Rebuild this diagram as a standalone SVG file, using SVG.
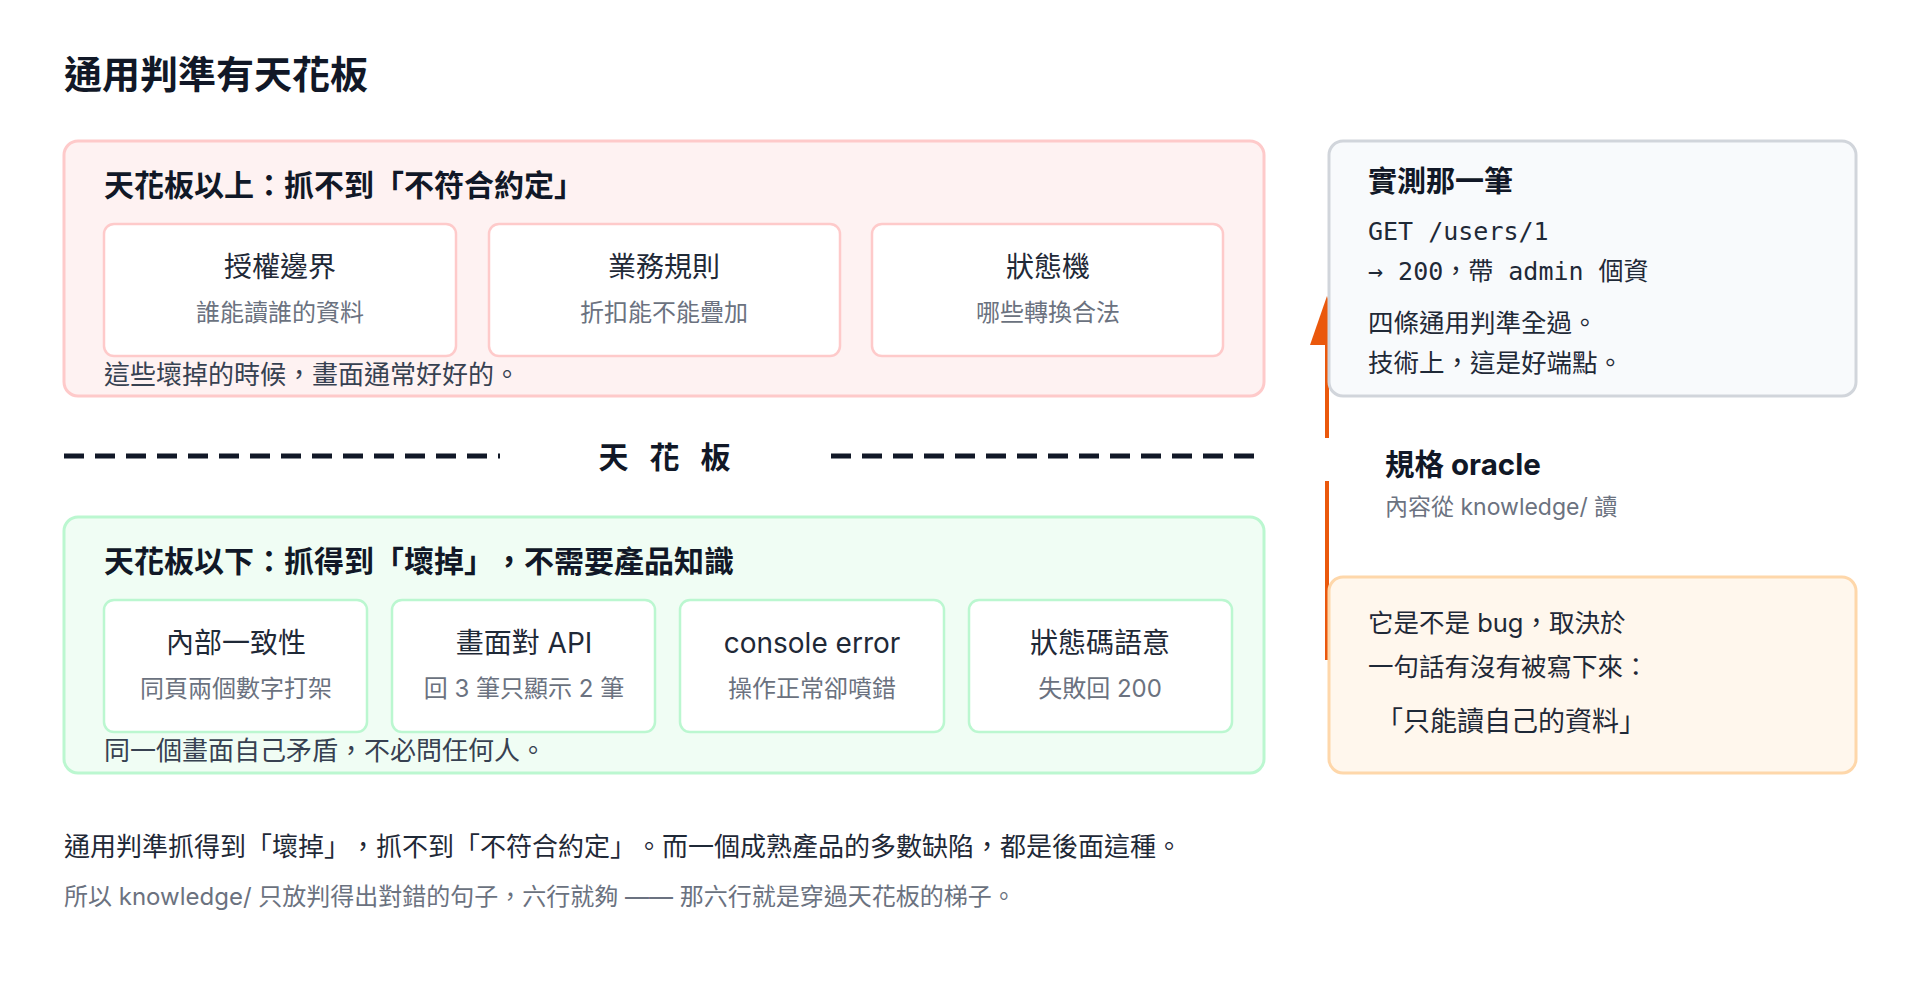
<svg xmlns="http://www.w3.org/2000/svg" width="1920" height="1000" viewBox="0 0 1920 1000">
<style>
text{font-family:"Inter","Noto Sans CJK TC",sans-serif;fill:#1f2937;text-spacing-trim:space-all}
.b{font-weight:700;fill:#111827}
.ct{font-size:28px;text-anchor:middle}
.cs{font-size:24px;text-anchor:middle;fill:#6b7280}
.n{font-size:26px;fill:#374151}
.g{fill:#6b7280}
.m{font-family:"DejaVu Sans Mono","Noto Sans CJK TC",monospace;font-size:25px}
.rc{fill:#fff;stroke:#fecaca;stroke-width:2.5}
.gc{fill:#fff;stroke:#bbf7d0;stroke-width:2.5}
</style>
<rect width="1920" height="1000" fill="#fff"/>
<text x="64" y="88" class="b" font-size="38">通用判準有天花板</text>
<g id="above">
<rect x="64" y="141" width="1200" height="255" rx="14" fill="#fef2f2" stroke="#fecaca" stroke-width="3"/>
<text x="104" y="196" class="b" font-size="30">天花板以上：抓不到「不符合約定」</text>
<g id="c1"><rect x="104" y="224" width="352" height="132" rx="10" class="rc"/><text x="280" y="277" class="ct">授權邊界</text><text x="280" y="321" class="cs">誰能讀誰的資料</text></g>
<g id="c2"><rect x="489" y="224" width="351" height="132" rx="10" class="rc"/><text x="664" y="277" class="ct">業務規則</text><text x="664" y="321" class="cs">折扣能不能疊加</text></g>
<g id="c3"><rect x="872" y="224" width="351" height="132" rx="10" class="rc"/><text x="1048" y="277" class="ct">狀態機</text><text x="1048" y="321" class="cs">哪些轉換合法</text></g>
<text x="104" y="384" class="n">這些壞掉的時候，畫面通常好好的。</text>
</g>
<g id="ceiling">
<line x1="64" y1="456" x2="500" y2="456" stroke="#111827" stroke-width="5" stroke-dasharray="20 11"/>
<line x1="831" y1="456" x2="1264" y2="456" stroke="#111827" stroke-width="5" stroke-dasharray="20 11"/>
<text x="675" y="468" class="b" font-size="30" text-anchor="middle" letter-spacing="21">天花板</text>
</g>
<g id="below">
<rect x="64" y="517" width="1200" height="256" rx="14" fill="#f0fdf4" stroke="#bbf7d0" stroke-width="3"/>
<text x="104" y="572" class="b" font-size="30">天花板以下：抓得到「壞掉」，不需要產品知識</text>
<g id="d1"><rect x="104" y="600" width="263" height="132" rx="10" class="gc"/><text x="236" y="653" class="ct">內部一致性</text><text x="236" y="697" class="cs">同頁兩個數字打架</text></g>
<g id="d2"><rect x="392" y="600" width="263" height="132" rx="10" class="gc"/><text x="524" y="653" class="ct">畫面對 API</text><text x="524" y="697" class="cs">回 3 筆只顯示 2 筆</text></g>
<g id="d3"><rect x="680" y="600" width="264" height="132" rx="10" class="gc"/><text x="812" y="653" class="ct">console error</text><text x="812" y="697" class="cs">操作正常卻噴錯</text></g>
<g id="d4"><rect x="969" y="600" width="263" height="132" rx="10" class="gc"/><text x="1100" y="653" class="ct">狀態碼語意</text><text x="1100" y="697" class="cs">失敗回 200</text></g>
<text x="104" y="760" class="n">同一個畫面自己矛盾，不必問任何人。</text>
</g>
<text x="64" y="856" font-size="26" fill="#1f2937">通用判準抓得到「壞掉」，抓不到「不符合約定」。而一個成熟產品的多數缺陷，都是後面這種。</text>
<text x="64" y="905" font-size="24" class="g">所以 knowledge/ 只放判得出對錯的句子，六行就夠 —— 那六行就是穿過天花板的梯子。</text>
<g id="connectors">
<line x1="1327" y1="340" x2="1327" y2="438" stroke="#ea580c" stroke-width="4"/>
<line x1="1327" y1="481" x2="1327" y2="660" stroke="#ea580c" stroke-width="4"/>
<polygon points="1327,296 1344,345 1310,345" fill="#ea580c"/>
</g>
<g id="measured">
<rect x="1329" y="141" width="527" height="255" rx="14" fill="#f8fafc" stroke="#d1d5db" stroke-width="3"/>
<text x="1368" y="192" class="b" font-size="29">實測那一筆</text>
<text x="1368" y="240" class="m">GET /users/1</text>
<text x="1368" y="280" class="m">→ 200，帶 admin 個資</text>
<text x="1368" y="332" font-size="25.5">四條通用判準全過。</text>
<text x="1368" y="372" font-size="25.5">技術上，這是好端點。</text>
</g>
<g id="oracle">
<text x="1385" y="475" class="b" font-size="29.5">規格 oracle</text>
<text x="1385" y="515" font-size="23" class="g">內容從 knowledge/ 讀</text>
</g>
<g id="bugbox">
<rect x="1329" y="577" width="527" height="196" rx="14" fill="#fff7ed" stroke="#fed7aa" stroke-width="3"/>
<text x="1368" y="632" font-size="25.5">它是不是 bug，取決於</text>
<text x="1368" y="676" font-size="25.5">一句話有沒有被寫下來：</text>
<text x="1376" y="731" font-size="27" fill="#111827">「只能讀自己的資料」</text>
</g>
</svg>
